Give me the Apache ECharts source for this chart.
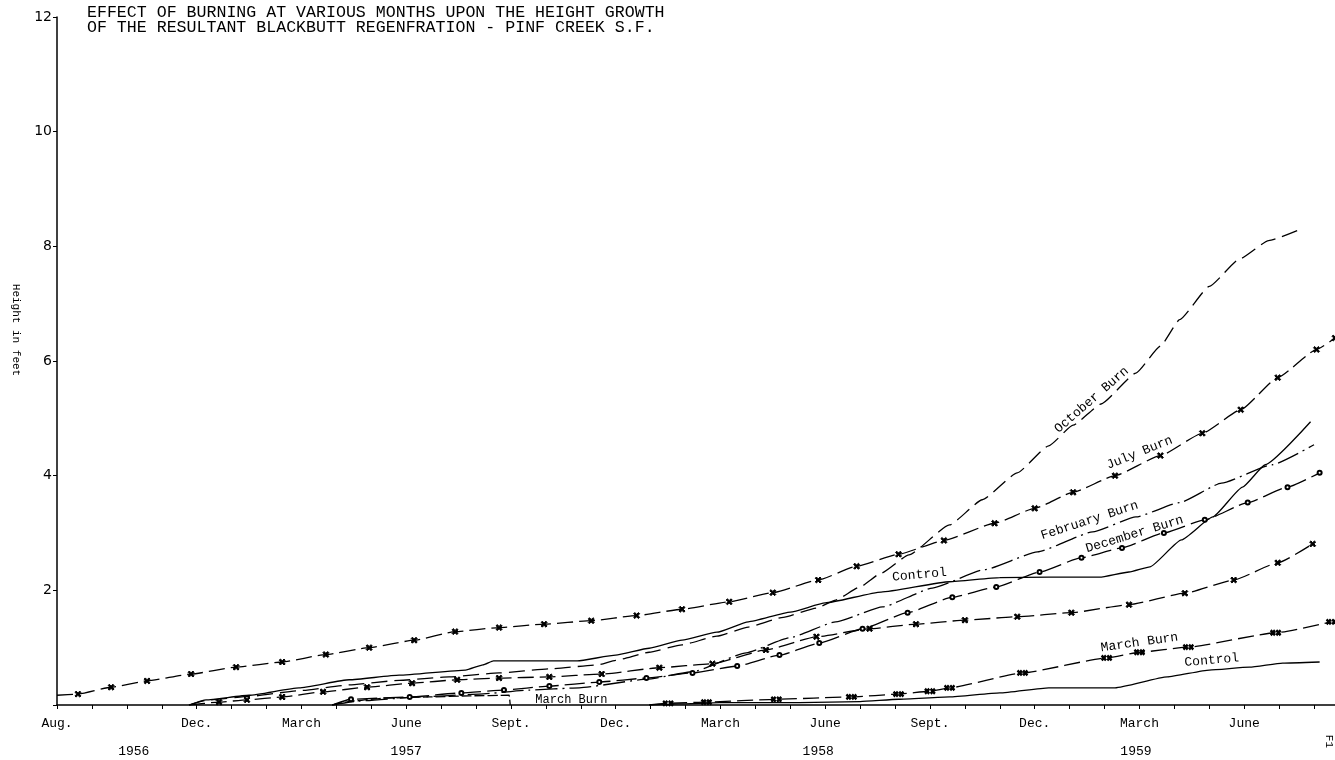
<!DOCTYPE html>
<html>
<head>
<meta charset="utf-8">
<script src="https://cdn.jsdelivr.net/npm/echarts@6/dist/echarts.min.js"></script>
<style>
html,body{margin:0;padding:0;background:#fff;}
#chart{width:1335px;height:760px;}
</style>
</head>
<body>
<div id="chart"></div>
<script>
// ---- Data (x = months after Aug. 1956, y = height in feet) ----
const titleLines = ['EFFECT OF BURNING AT VARIOUS MONTHS UPON THE HEIGHT GROWTH',
                    'OF THE RESULTANT BLACKBUTT REGENFRATION - PINF CREEK S.F.'];
const monthTicks = [0, 4, 7, 10, 13, 16, 19, 22, 25, 28, 31, 34];
const monthNames = ['Aug.', 'Dec.', 'March', 'June', 'Sept.', 'Dec.', 'March', 'June', 'Sept.', 'Dec.', 'March', 'June'];
const yearTicks = [2.2, 10.0, 21.8, 30.9];
const yearNames = ['1956', '1957', '1958', '1959'];

const julyBurn = [[0,0.17],[0.6,0.19],[1.55,0.31],[2.58,0.42],[3.84,0.54],[5.13,0.66],[6.45,0.75],[7.7,0.88],
  [8.94,1.0],[10.23,1.13],[11.4,1.28],[12.66,1.35],[13.95,1.41],[15.3,1.47],[16.6,1.56],[17.9,1.67],[19.25,1.8],
  [20.5,1.96],[21.8,2.18],[22.9,2.42],[24.1,2.63],[25.4,2.87],[26.85,3.17],[28.0,3.43],[29.1,3.71],[30.3,4.0],
  [31.6,4.35],[32.8,4.74],[33.9,5.15],[34.96,5.71],[36.07,6.2],[36.6,6.4]];

const octoberBurn = [[3.78,0],[4.35,0.09],[5.5,0.15],[6.93,0.25],[8.37,0.35],[9.8,0.43],[11.23,0.49],[12.66,0.56],
  [14.1,0.63],[15.5,0.7],[16.0,0.78],[16.96,0.92],[17.9,1.05],[18.9,1.2],[19.8,1.36],[20.8,1.53],[21.75,1.69],
  [22.3,1.83],[23.0,2.06],[23.6,2.3],[24.4,2.62],[25.56,3.14],[26.5,3.58],[27.5,4.05],[28.4,4.52],[29.1,4.88],
  [29.9,5.25],[30.9,5.79],[31.6,6.26],[32.15,6.72],[33.0,7.3],[33.87,7.78],[34.7,8.1],[35.7,8.32]];

const control = [[3.78,0],[4.27,0.09],[5.5,0.17],[6.93,0.3],[8.37,0.44],[9.8,0.52],[11.7,0.61],[12.2,0.7],
  [12.5,0.77],[14.1,0.77],[14.9,0.77],[16.0,0.87],[16.96,0.99],[17.9,1.13],[18.9,1.27],[19.8,1.45],[21.0,1.62],
  [22.0,1.78],[23.6,1.97],[25.56,2.15],[27.0,2.22],[28.4,2.23],[29.86,2.23],[30.7,2.32],[31.3,2.41],[32.2,2.88],
  [33.1,3.28],[33.95,3.8],[34.6,4.19],[35.9,4.94]];

const unlabelledX = [[3.78,0],[4.64,0.05],[5.44,0.09],[6.45,0.14],[7.62,0.23],[8.88,0.31],[10.17,0.38],[11.46,0.44],
  [12.66,0.47],[14.1,0.49],[15.6,0.54],[17.25,0.65],[18.77,0.72],[20.3,0.96],[21.75,1.19],[23.27,1.33],[24.6,1.41],
  [26.0,1.48],[27.5,1.54],[29.05,1.61],[30.7,1.75],[32.3,1.95],[33.7,2.18],[34.96,2.48],[35.96,2.81]];

const februaryBurn = [[7.88,0],[8.65,0.07],[10.37,0.14],[12.1,0.19],[13.5,0.26],[14.96,0.3],[16.9,0.45],[18.2,0.58],
  [19.74,0.91],[20.97,1.17],[22.3,1.45],[23.64,1.71],[25.07,2.04],[26.56,2.36],[28.08,2.67],[29.66,3.02],[30.9,3.28],
  [32.15,3.53],[33.35,3.87],[34.8,4.19],[36.0,4.54]];

const decemberBurn = [[7.88,0],[8.42,0.1],[10.1,0.14],[11.58,0.21],[12.8,0.26],[14.1,0.33],[15.53,0.4],[16.88,0.47],
  [18.2,0.56],[19.48,0.68],[20.69,0.87],[21.83,1.08],[23.07,1.33],[24.36,1.61],[25.64,1.88],[26.9,2.06],[28.14,2.32],
  [29.34,2.57],[30.5,2.74],[31.7,3.0],[32.87,3.23],[34.1,3.53],[35.24,3.8],[36.16,4.05]];

const marchBurn1957 = [[7.88,0],[8.5,0.07],[9.37,0.12],[10.66,0.14],[11.8,0.16],[12.95,0.17],[12.98,0]];

const marchBurn1958 = [[16.96,0],[17.5,0.03],[18.6,0.05],[20.6,0.1],[22.75,0.14],[24.1,0.19],[25.0,0.24],[25.56,0.3],
  [27.65,0.56],[30.06,0.82],[31.0,0.92],[32.4,1.01],[34.9,1.26],[36.5,1.45]];

const control1958 = [[16.96,0],[17.8,0.02],[18.97,0.04],[21.26,0.04],[23.0,0.06],[24.1,0.1],[25.56,0.14],[27.0,0.21],
  [28.4,0.3],[30.3,0.3],[31.8,0.49],[33.0,0.61],[34.15,0.66],[35.1,0.73],[36.16,0.75]];

// line annotations: [text, x, y, angle]
const annotations = {
  october: ['October Burn', 29.63, 5.32, 41],
  july: ['July Burn', 31.0, 4.4, 22],
  february: ['February Burn', 29.57, 3.22, 18],
  december: ['December Burn', 30.86, 2.98, 17],
  control: ['Control', 24.7, 2.27, 5],
  march57: ['March Burn', 14.73, 0.09, 0],
  march58: ['March Burn', 31.0, 1.09, 8],
  control58: ['Control', 33.07, 0.78, 5]
};

// ---- Styling / chart ----
const FONT = '"Liberation Mono", "DejaVu Sans Mono", monospace';
const X_PATH = 'path://M0,2L2,0L5,3L8,0L10,2L7,5L10,8L8,10L5,7L2,10L0,8L3,5Z';
const XX_PATH = 'path://M0,2L2,0L5,3L8,0L10,2L7,5L10,8L8,10L5,7L2,10L0,8L3,5Z M13,2L15,0L18,3L21,0L23,2L20,5L23,8L21,10L18,7L15,10L13,8L16,5Z';

function note(a, size) {
  return {
    coord: [a[1], a[2]],
    symbol: 'circle', symbolSize: 1,
    itemStyle: {color: 'rgba(0,0,0,0)'},
    label: {show: true, position: 'inside', formatter: a[0], rotate: a[3],
            color: '#000', fontFamily: FONT, fontSize: size || 13}
  };
}

function line(name, data, dash, symbol, symbolSize, notes) {
  const pts = data.map((p, i) => (i === 0 || !symbol) ? {value: p, symbol: 'none'} : p);
  const s = {
    name: name, type: 'line', data: pts,
    smooth: 0.15, smoothMonotone: 'x',
    symbol: symbol || 'none', symbolSize: symbolSize || 6,
    showSymbol: !!symbol,
    itemStyle: {color: '#000', borderColor: '#000', borderWidth: 1},
    lineStyle: {color: '#000', width: 1.3, type: dash},
    z: 3
  };
  if (notes) {
    s.markPoint = {silent: true, data: notes, animation: false};
  }
  return s;
}

const chart = echarts.init(document.getElementById('chart'), null, {renderer: 'canvas'});
chart.setOption({
  animation: false,
  backgroundColor: '#fff',
  title: {
    text: titleLines.join('\n'),
    left: 82, top: 0,
    textStyle: {fontFamily: FONT, fontSize: 16.6, fontWeight: 'normal', color: '#000', lineHeight: 15}
  },
  grid: {left: 57, right: 0, top: 17, bottom: 55, containLabel: false},
  xAxis: [{
    type: 'value', min: 0, max: 36.6, interval: 1,
    axisLine: {show: true, onZero: false, lineStyle: {color: '#000', width: 1.5}},
    axisTick: {show: true, length: 4, lineStyle: {color: '#000', width: 1}},
    splitLine: {show: false},
    axisLabel: {
      margin: 12, color: '#000', fontFamily: FONT, fontSize: 13,
      showMaxLabel: false,
      formatter: v => { const i = monthTicks.indexOf(Math.round(v)); return (i >= 0 && Math.abs(v - Math.round(v)) < 1e-6) ? monthNames[i] : ''; }
    }
  }, {
    type: 'value', min: 0, max: 36.6, interval: 0.1, position: 'bottom', offset: 28,
    axisLine: {show: false}, axisTick: {show: false}, splitLine: {show: false},
    axisLabel: {
      margin: 12, color: '#000', fontFamily: FONT, fontSize: 13, showMaxLabel: false, showMinLabel: false,
      formatter: v => { const i = yearTicks.findIndex(y => Math.abs(y - v) < 0.04); return i >= 0 ? yearNames[i] : ''; }
    }
  }],
  yAxis: {
    type: 'value', min: 0, max: 12, interval: 2,
    name: 'Height in feet', nameLocation: 'middle', nameRotate: -90, nameGap: 36,
    nameTextStyle: {fontFamily: FONT, fontSize: 11, color: '#000', padding: [0, 62, 0, 0]},
    axisLine: {show: true, lineStyle: {color: '#000', width: 1.5}},
    axisTick: {show: true, length: 4, lineStyle: {color: '#000'}},
    splitLine: {show: false},
    axisLabel: {margin: 5, color: '#000', fontFamily: '"DejaVu Sans", sans-serif', fontSize: 14,
                formatter: v => v === 0 ? '' : String(v)}
  },
  series: [
    line('July Burn', julyBurn, [16, 6], X_PATH, 6, [note(annotations.july)]),
    line('October Burn', octoberBurn, [16, 7], null, 0, [note(annotations.october)]),
    line('Control', control, 'solid', null, 0, [note(annotations.control)]),
    line('Unlabelled (x)', unlabelledX, [16, 6], X_PATH, 6, null),
    line('February Burn', februaryBurn, [22, 5, 2, 5], null, 0, [note(annotations.february)]),
    line('December Burn', decemberBurn, [20, 6], 'emptyCircle', 4, [note(annotations.december)]),
    line('March Burn 1957', marchBurn1957, [10, 3], null, 0, [note(annotations.march57, 12)]),
    line('March Burn 1958', marchBurn1958, [16, 6], XX_PATH, [10, 5], [note(annotations.march58)]),
    line('Control 1958', control1958, 'solid', null, 0, [note(annotations.control58)])
  ],
  graphic: [{
    type: 'text', right: 1, bottom: 12, rotation: -Math.PI / 2,
    style: {text: 'F1', font: '11px ' + FONT, fill: '#000'}
  }]
});
</script>
</body>
</html>
